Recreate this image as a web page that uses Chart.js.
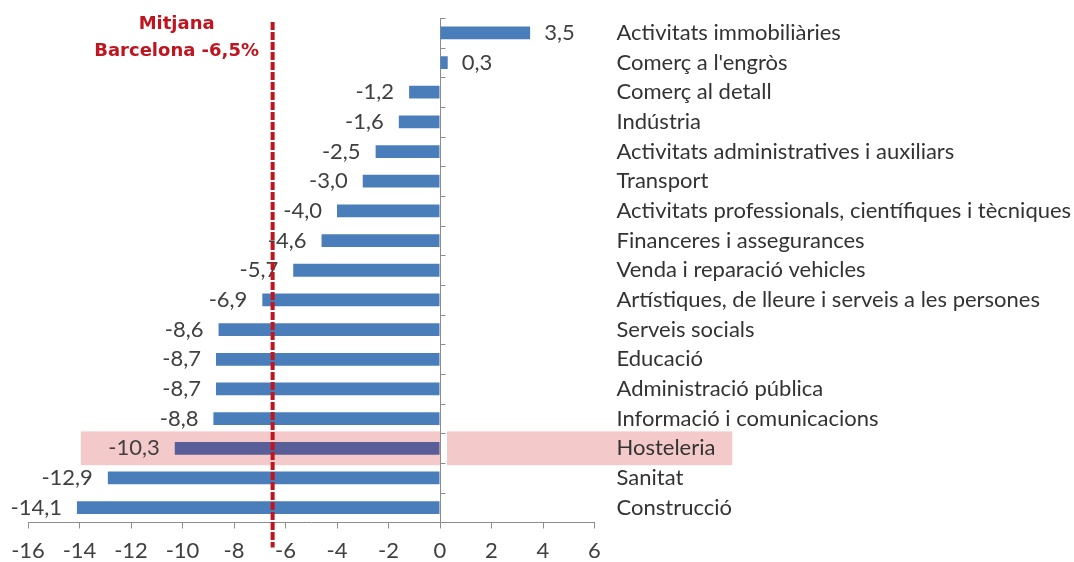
<!DOCTYPE html>
<html><head><meta charset="utf-8">
<script src="https://cdn.jsdelivr.net/npm/chart.js@4.4.1/dist/chart.umd.min.js"></script>
<style>html,body{margin:0;padding:0;background:#fff;overflow:hidden}</style>
</head><body>
<canvas id="c" width="1074" height="562"></canvas>
<script>
const categories = [
  "Activitats immobiliàries",
  "Comerç a l'engròs",
  "Comerç al detall",
  "Indústria",
  "Activitats administratives i auxiliars",
  "Transport",
  "Activitats professionals, científiques i tècniques",
  "Financeres i assegurances",
  "Venda i reparació vehicles",
  "Artístiques, de lleure i serveis a les persones",
  "Serveis socials",
  "Educació",
  "Administració pública",
  "Informació i comunicacions",
  "Hosteleria",
  "Sanitat",
  "Construcció"
];
const values = [3.5, 0.3, -1.2, -1.6, -2.5, -3.0, -4.0, -4.6, -5.7, -6.9, -8.6, -8.7, -8.7, -8.8, -10.3, -12.9, -14.1];
const xTicks = [-16, -14, -12, -10, -8, -6, -4, -2, 0, 2, 4, 6];
const averageValue = -6.5;
const averageLabel = ["Mitjana", "Barcelona -6,5%"];
const highlightCategory = "Hosteleria";

const BAR = '#4a7ebb', BAR_HI = '#5a5e98', PINK = '#f3c9c9', RED = '#c0141e', AXIS = '#8c8c8c';
const TXT_FONT = 'Lato';
const hiIndex = categories.indexOf(highlightCategory);
const fmt = v => v.toFixed(1).replace('.', ',');

const extras = {
  id: 'extras',
  beforeDraw(chart) {
    const {ctx, scales: {x, y}, chartArea} = chart;
    const band = (chartArea.bottom - chartArea.top) / categories.length;
    const yc = y.getPixelForValue(hiIndex);
    ctx.save();
    ctx.fillStyle = PINK;
    const x0 = x.getPixelForValue(-13.95), x1 = x.getPixelForValue(11.35), xz = x.getPixelForValue(0);
    ctx.fillRect(x0, yc - band * 0.57, xz - x0, band * 1.14);
    ctx.fillRect(xz + 7, yc - band * 0.57, x1 - xz - 7, band * 1.14);
    ctx.restore();
  },
  afterDatasetsDraw(chart) {
    const {ctx, scales: {x, y}, chartArea} = chart;
    const meta = chart.getDatasetMeta(0);
    const band = (chartArea.bottom - chartArea.top) / categories.length;
    const xz = Math.round(x.getPixelForValue(0)) + 0.5;
    ctx.save();
    // zero-axis tick marks at category boundaries
    ctx.strokeStyle = AXIS; ctx.lineWidth = 1;
    ctx.beginPath();
    for (let i = 0; i <= categories.length; i++) {
      const yy = Math.round(y.getPixelForValue(i) - band / 2) + 0.5;
      ctx.moveTo(xz, yy); ctx.lineTo(xz + 5, yy);
    }
    ctx.stroke();
    // value labels
    ctx.font = '22px ' + TXT_FONT;
    ctx.fillStyle = '#404040';
    ctx.textBaseline = 'middle';
    meta.data.forEach((bar, i) => {
      const v = values[i];
      if (v < 0) { ctx.textAlign = 'right'; ctx.fillText(fmt(v), bar.x - 15, bar.y); }
      else { ctx.textAlign = 'left'; ctx.fillText(fmt(v), bar.x + 14, bar.y); }
    });
    // average dashed line
    const xa = x.getPixelForValue(averageValue);
    ctx.strokeStyle = RED; ctx.lineWidth = 4; ctx.setLineDash([8, 2]);
    ctx.beginPath(); ctx.moveTo(xa, chartArea.top + 4); ctx.lineTo(xa, chartArea.bottom + 25); ctx.stroke();
    ctx.setLineDash([]);
    // average label
    ctx.font = 'bold 18px "DejaVu Sans"';
    ctx.fillStyle = RED; ctx.textAlign = 'center';
    ctx.fillText(averageLabel[0], xa - 96, chartArea.top + 6);
    ctx.fillText(averageLabel[1], xa - 96, chartArea.top + 33);
    ctx.restore();
  }
};

new Chart(document.getElementById('c'), {
  type: 'bar',
  data: {
    labels: categories,
    datasets: [{
      data: values,
      backgroundColor: categories.map((c, i) => i === hiIndex ? BAR_HI : BAR),
      barPercentage: 0.43,
      categoryPercentage: 1
    }]
  },
  options: {
    indexAxis: 'y',
    responsive: false,
    animation: false,
    devicePixelRatio: 1,
    layout: {padding: {left: 28, top: 18, right: 0, bottom: 0}},
    plugins: {legend: {display: false}, tooltip: {enabled: false}},
    scales: {
      x: {
        min: xTicks[0], max: xTicks[xTicks.length - 1],
        afterBuildTicks: s => { s.ticks = xTicks.map(v => ({value: v})); },
        afterFit: s => { s.height = 39.5; s.paddingLeft = 0; s.paddingRight = 0; },
        ticks: {font: {family: TXT_FONT, size: 22}, color: '#404040', padding: 9, maxRotation: 0,
                callback: v => String(v)},
        grid: {color: c => c.tick && c.tick.value === 0 ? AXIS : 'rgba(0,0,0,0)', tickColor: AXIS, tickLength: 6, lineWidth: 1},
        border: {display: true, color: AXIS}
      },
      y: {
        position: 'right',
        afterFit: s => { s.width = 1074 - 594.5; s.paddingTop = 0; s.paddingBottom = 0; },
        grid: {display: false, drawTicks: false},
        border: {display: false},
        ticks: {font: {family: TXT_FONT, size: 22}, color: '#333333', padding: 22, crossAlign: 'near', autoSkip: false}
      }
    }
  },
  plugins: [extras]
});
</script>
</body></html>
